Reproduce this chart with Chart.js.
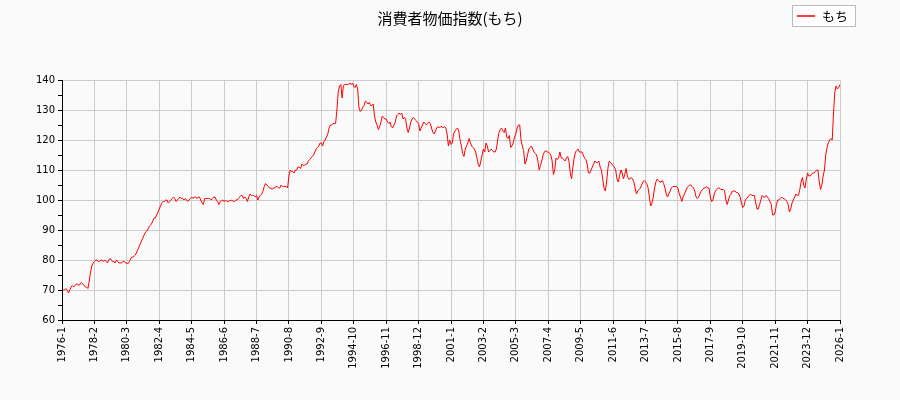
<!DOCTYPE html>
<html><head><meta charset="utf-8">
<script src="https://cdn.jsdelivr.net/npm/chart.js@4"></script>
<style>body{margin:0;background:#fafafa}canvas{display:block}</style>
</head><body><div style="width:900px;height:400px"><canvas id="c"></canvas></div>
<script>
const startYear = 1976;
const seriesName = 'もち';
const titleText = '消費者物価指数(もち)';
const values = [
69.5,70,70,70.5,70,69,70,71,71.5,71,71.5,72,
72,71.5,72,72.5,72,71.5,71,71,70.5,73,76,78,
79,79.5,80,80,79.5,79.5,80,80,79.5,80,79.5,79,
80,80.5,80,79.5,79.5,79,80,79.5,79,79,79,79.5,
79.5,79,79,78.8,79.5,80.5,81,81,81.5,82,83,84,
85,86,87,88,89,89.5,90,91,91.5,92,93,94,
94,95,96,97,98,99,99.5,99.5,100,100,99,99.5,
100,100.5,101,100.5,99.5,100,100.5,101,100.5,100.5,100,100.5,
100,99.5,100,100.5,101,100.5,101,101,100.5,101,101,100,
99,98.5,100.5,100.5,100.5,100.5,100.5,100,100.5,101,101,100,
99.5,98.5,99.5,99.8,100,99.5,100,99.5,99.5,99.8,99.8,100,
99.5,99.5,100,100,100.5,101,101.5,101.5,100.5,101,100.5,99.5,
101,102,101.5,101.5,101.5,101,101.5,100,101,101.5,102,103,
104.5,105.5,105,104.5,104,104,103.5,104,104,104.5,104.5,104,
104,105,104.5,104.5,104.5,104.5,104,108,110,109.5,109.5,109,
110,110,111,111,110.5,112,111.5,111.5,112,112,113,113.5,
114,114.5,115,116,117,117.5,118,119,119,118,119.5,120,
121,122,124,125,125,125.5,125.5,125.5,130,136,138,138.5,
134,138,138.5,138.5,138.5,138.5,139,138.5,139,138,137.5,138.5,
137,131,129.5,130,131,131.5,133,132.5,132,132.5,131.5,131.5,
132,128,126,125,123.5,124.5,126,128,127.5,127,127,126,
125.5,126,124.5,124,125,126,128,128.5,129,128.5,129,127,
127.5,127,124,122.5,124,126,127,127.5,127,126.5,126,125.5,
123,124,125,126,125.5,125,125.5,126,125.5,124,122.5,122,
123,124,124.5,124,124.5,124.5,124,124.5,124,122,118,120,
118.5,119,122,123,123.5,124,123,120,118,115.5,114.5,117,
118,119,120.5,119,118,117.5,117,116,114,112,111,113,
115,117,116,119,118,116,116.5,117,116.5,116,116,117,
120,122.5,123.5,124,123,122.5,124,121,120.5,121.5,117.5,118,
119,121,122,124,125,125,120,118,116.5,112,113,115,
117,117.5,118,117,116,115.5,115,113,110,111.5,113,115,
116,116.5,116,116,115.5,115,113,108.5,110,114,113.5,114,
116,114,114,113.5,113,114,114.5,113,109,107,111,114,
116,116.5,117,116,116,116,115,114,113.5,112,109,109,
110,111,112,113,112.5,112.5,113,111,110,107,104,103,
106,110.5,113,112.5,112,111.5,111,110,107,106,108,110,
109,107,108.5,110.5,108,107,107,107.5,107,106,104,102,
103,103.5,104,105,106,106.5,106,105.5,104,101,98,99,
101,104,106,107,106.5,106,106,106.5,105.5,104,102,101,
102,103,104,104.5,104.5,104.5,104.5,104,102,101,99.5,101,
102,103,104,104.5,105,105,104.5,104,103,101,100.5,101,
102,103,103.5,104,104,104.5,104,104,101,99.5,100,102,
103,103.5,104,104,103.5,103.5,103.5,103,100,98.5,100,101.5,
102,103,103,103,102.5,102.5,102,101,99,97.5,98,100,
100.5,101,101.5,102,101.5,101.5,101.5,99,97,97,98.5,100,
101.5,101,101,101.5,101,100.5,99.5,98.5,95,95,96,98.5,
100,100,100.5,101,100.5,100.5,100,99.5,98.5,96,97,99,
100,101,102,101.5,101.5,103.5,106,107.5,105,104,107,109,
108,108,108.5,109,109,109.5,110,110,106,103.5,105,108,
110,115,117.5,119,120,120.5,120,129,136,138,137,137.5,
138.5
];
const labels = values.map((v,i)=> (startYear+Math.floor(i/12))+'-'+(i%12+1));
const pts = values.map((v,i)=>({x:i,y:v}));
const font = "'DejaVu Sans','Noto Sans CJK JP',sans-serif";

const deco = {
  id:'deco',
  afterDraw(ch){
    const c=ch.ctx; c.save();
    c.fillStyle='#000'; c.font="15px 'Noto Sans CJK JP','DejaVu Sans',sans-serif";
    c.textAlign='center'; c.textBaseline='middle';
    c.fillText(titleText,450,18);
    c.fillStyle='#fff'; c.strokeStyle='#bbb'; c.lineWidth=1;
    c.fillRect(792.5,5.5,63,21); c.strokeRect(792.5,5.5,63,21);
    c.strokeStyle='red'; c.lineWidth=1.5;
    c.beginPath(); c.moveTo(797,16); c.lineTo(815,16); c.stroke();
    c.fillStyle='#000'; c.textAlign='left'; c.font="13px 'Noto Sans CJK JP',sans-serif";
    c.fillText(seriesName,822,16);
    c.restore();
  }
};

new Chart(document.getElementById('c'),{
  type:'line',
  data:{datasets:[{label:seriesName,data:pts,borderColor:'red',borderWidth:1,pointRadius:0,tension:0,fill:false}]},
  options:{
    responsive:true,maintainAspectRatio:false,animation:false,
    layout:{padding:{top:80,right:60,left:0,bottom:0}},
    plugins:{legend:{display:false},tooltip:{enabled:false}},
    scales:{
      x:{type:'linear',min:0,max:values.length-1,
        afterFit(s){s.height=80;},
        grid:{color:'#cccccc',tickColor:'#000',tickLength:4},
        border:{color:'#000'},
        ticks:{stepSize:25,autoSkip:false,maxRotation:90,minRotation:90,color:'#000',font:{family:font,size:10},
          callback:(v)=>Number.isInteger(v)&&v%25===0?labels[v]:''}},
      y:{min:60,max:140,
        afterFit(s){s.width=62;},
        grid:{color:(c)=>c.tick&&c.tick.value%10===0?'#cccccc':'rgba(0,0,0,0)',tickColor:'#000',tickLength:4},
        border:{color:'#000'},
        ticks:{stepSize:5,autoSkip:false,color:'#000',font:{family:font,size:10},
          callback:(v)=>v%10===0?v:''}}
    }
  },
  plugins:[deco]
});
</script></body></html>
